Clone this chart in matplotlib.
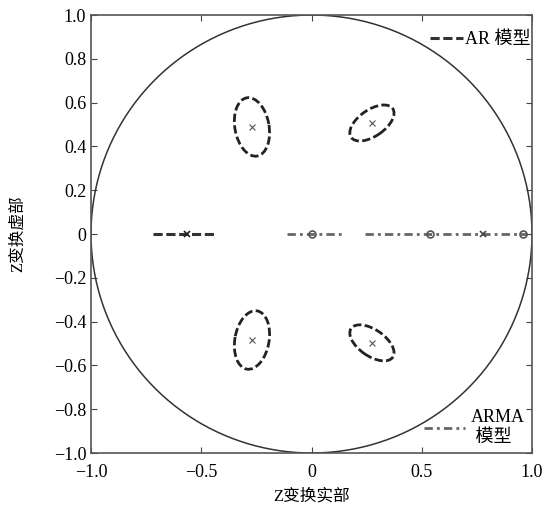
import numpy as np
import matplotlib
matplotlib.use("Agg")
import matplotlib.pyplot as plt
from matplotlib.patches import Ellipse

plt.rcParams['font.family'] = ['Liberation Serif', 'Noto Sans CJK SC']

# AR model complex poles: centre, ellipse width/height, tilt angle (deg)
ar_re = [-0.27, 0.274, -0.27, 0.274]
ar_im = [0.489, 0.507, -0.484, -0.497]
ar_w = [0.27, 0.23, 0.27, 0.23]
ar_h = [0.155, 0.12, 0.155, 0.12]
ar_ang = [100, 35, -100, -35]

# AR model real pole spread
ar_real_span = [-0.72, -0.44]
ar_real_pole = [-0.565]

# ARMA model real roots spread
arma_spans = [[-0.11, 0.143], [0.243, 0.977]]
arma_zeros = [0.002, 0.537, 0.959]
arma_poles = [0.778]

fig = plt.figure(figsize=(5.6, 5.09), dpi=100)
ax = fig.add_axes([0.1625, 0.110, 0.7875, 0.8605])

# unit circle
t = np.linspace(0, 2 * np.pi, 500)
ax.plot(np.cos(t), np.sin(t), color='#333333', lw=1.1)

dash = (0, (3, 1.2))
dashdot = (0, (3, 1.5, 1, 1.5))

for x, y, w, h, a in zip(ar_re, ar_im, ar_w, ar_h, ar_ang):
    ax.add_patch(Ellipse((x, y), w, h, angle=a, fill=False, ec='#222222',
                         lw=2.0, ls=dash))
ax.plot(ar_re, ar_im, 'x', color='#555555', ms=4, mew=0.8)

ar_line, = ax.plot(ar_real_span, [0, 0], color='#333333', lw=2.2, ls=dash)
ax.plot(ar_real_pole, [0], 'x', color='#222222', ms=5, mew=1.2)

arma_line = None
for s in arma_spans:
    arma_line, = ax.plot(s, [0, 0], color='#666666', lw=2.0, ls=dashdot)
ax.plot(arma_zeros, [0] * len(arma_zeros), 'o', mfc='none', mec='#555555',
        ms=5, mew=1.2)
ax.plot(arma_poles, [0], 'x', color='#444444', ms=5, mew=1.2)

ax.set_xlim(-1, 1)
ax.set_ylim(-1, 1)
ax.set_xticks([-1, -0.5, 0, 0.5, 1])
ax.set_xticklabels(['\u22121.0', '\u22120.5', '0', '0.5', '1.0'])
yt = np.round(np.arange(-1, 1.01, 0.2), 1)
ax.set_yticks(yt)
ax.set_yticklabels([('0' if v == 0 else f'{v:.1f}'.replace('-', '\u2212')) for v in yt])
ax.tick_params(direction='in', top=True, right=True, labelsize=13,
               length=4, color='#444444')
ax.tick_params(axis='x', pad=8)
for sp in ax.spines.values():
    sp.set_color('#555555')
    sp.set_linewidth(1.2)

ax.set_xlabel('Z变换实部', fontsize=12, labelpad=5)
ax.set_ylabel('Z变换虚部', fontsize=12, labelpad=20)

leg1 = ax.legend([ar_line], ['AR 模型'], loc='upper right', frameon=False,
                 fontsize=13, handlelength=1.8, handletextpad=0.1,
                 bbox_to_anchor=(1.008, 0.975), borderaxespad=0, borderpad=0.3)
ax.add_artist(leg1)
ax.legend([arma_line], ['ARMA\n 模型'], loc='lower right', frameon=False,
          fontsize=13, handlelength=2.3, handletextpad=0.3,
          borderaxespad=0.1, borderpad=0.3)

fig.savefig('out.png', dpi=100)
